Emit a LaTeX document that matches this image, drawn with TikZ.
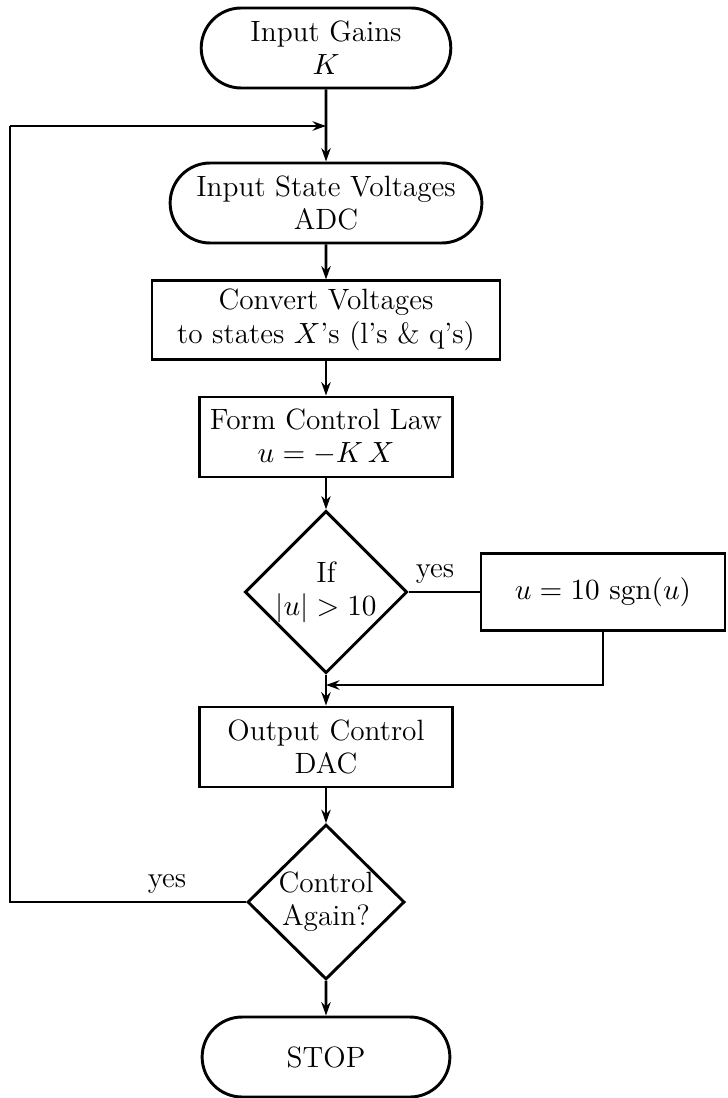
\documentclass[tikz,border=0pt]{standalone}
\usepackage{tikz}
\usetikzlibrary{shapes.misc,shapes.geometric,arrows.meta}

\begin{document}
\begin{tikzpicture}[x=0.375pt,y=-0.375pt,
  every node/.style={font=\fontsize{11}{12.5}\selectfont,align=center,inner sep=1pt},
  term/.style={draw,line width=1.1pt,rounded rectangle,minimum height=30pt},
  proc/.style={draw,line width=1.1pt,rectangle,minimum height=30pt},
  decide/.style={draw,line width=1.1pt,diamond,inner sep=0pt},
  flow/.style={line width=1.1pt,-{Stealth[length=5pt,width=3.5pt]}},
  wire/.style={line width=1.1pt}]
\path[use as bounding box] (0,0) rectangle (727,1098);
\node[term,minimum width=95.6pt] (gains) at (326,48) {Input Gains\\$K$};
\node[term,minimum width=118.9pt] (adc) at (326,203) {Input State Voltages\\ADC};
\node[proc,minimum width=130.5pt,minimum height=29.3pt] (conv) at (326,320) {Convert Voltages\\to states $X$'s (l's \& q's)};
\node[proc,minimum width=94.9pt] (law) at (326,437) {Form Control Law\\$u=-K\,X$};
\node[decide,minimum width=58.9pt,minimum height=58.5pt] (lim) at (326,592) {If\\$|u|>10$};
\node[proc,minimum width=91.5pt,minimum height=28.9pt] (sat) at (603,592) {$u=10\ \mathrm{sgn}(u)$};
\node[proc,minimum width=95.2pt] (dac) at (326,747) {Output Control\\DAC};
\node[decide,minimum width=58.9pt,minimum height=56.6pt] (again) at (326,902) {Control\\Again?};
\node[term,minimum width=94.9pt] (stop) at (326,1057) {STOP};
\node (yesa) at (435,574) {yes};
\node (yesb) at (167,884) {yes};
\coordinate (join) at (326,126);
\coordinate (merge) at (326,685);
\coordinate (fbleft) at (10,126);
\draw[flow] (gains) -- (adc);
\draw[flow] (adc) -- (conv);
\draw[flow] (conv) -- (law);
\draw[flow] (law) -- (lim);
\draw[wire] (lim.east) -- (sat.west);
\draw[flow] (lim) -- (dac);
\draw[flow] (sat.south) |- (merge);
\draw[flow] (dac) -- (again);
\draw[flow] (again) -- (stop);
\draw[wire] (again.west) -| (fbleft);
\draw[flow] (fbleft) -- (join);
\end{tikzpicture}
\end{document}
